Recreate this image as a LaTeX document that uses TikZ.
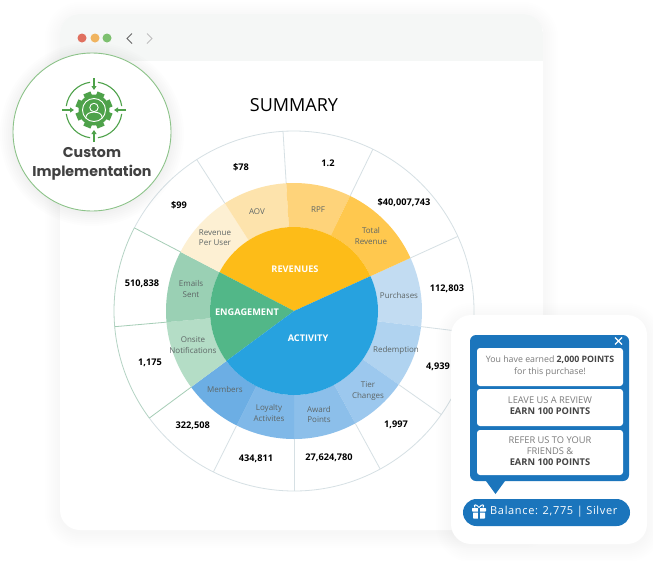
\documentclass[tikz,border=0pt]{standalone}
\usepackage{fontspec}
\setmainfont{Open Sans}
\newfontfamily\popfont{Poppins}
\newfontfamily\spacedfont[LetterSpace=6]{Open Sans}
\usetikzlibrary{arrows.meta}
\definecolor{revc}{HTML}{FDBC18}
\definecolor{engc}{HTML}{52B788}
\definecolor{actc}{HTML}{27A2DF}
\definecolor{popblue}{HTML}{1B75BC}
\definecolor{iconc}{HTML}{4EA24A}
\definecolor{tick}{HTML}{D6E0E4}
\definecolor{tickg}{HTML}{A5CDB6}
\definecolor{lbl}{HTML}{5E6666}
\definecolor{graytxt}{HTML}{7A7A7A}
\definecolor{darktxt}{HTML}{444444}
\definecolor{barbg}{HTML}{F5F7F6}
\definecolor{dotr}{HTML}{E0705F}
\definecolor{doto}{HTML}{F0B45F}
\definecolor{dotg}{HTML}{7DC06F}
\definecolor{sTotal}{HTML}{FFC84E}
\definecolor{sRPF}{HTML}{FED37A}
\definecolor{sAOV}{HTML}{FDE3AC}
\definecolor{sRev}{HTML}{FDF0D3}
\definecolor{sEmail}{HTML}{9AD0B4}
\definecolor{sOnsite}{HTML}{B4DDC6}
\definecolor{sMem}{HTML}{6CAEE4}
\definecolor{sLoy}{HTML}{7FB8E8}
\definecolor{sAward}{HTML}{8CBFEA}
\definecolor{sTier}{HTML}{9CC8EE}
\definecolor{sRed}{HTML}{B0D3F0}
\definecolor{sPur}{HTML}{C2DCF2}
\newcommand\softshadow[5]{% x1 y1 x2 y2 radius
  \foreach \sz in {1,3,...,15}{
    \fill[black,opacity=0.004,rounded corners=#5+\sz] (#1-\sz,#2-\sz+3) rectangle (#3+\sz,#4+\sz+3);
  }}
\newcommand\ringseg[5]{% colour a1 a2 r1 r2
  \fill[#1] (#2:#4) arc[start angle=#2,end angle=#3,radius=#4] -- (#3:#5) arc[start angle=#3,end angle=#2,radius=#5] -- cycle;}
\tikzset{
  valtxt/.style={font=\fontsize{9.2}{10}\selectfont\bfseries,text=black,inner sep=0pt},
  midtxt/.style={font=\fontsize{8}{10.3}\selectfont,text=lbl,align=center,inner sep=0pt},
  cenlbl/.style={font=\fontsize{9.2}{10}\selectfont\bfseries,text=white,inner sep=0pt},
  rowbox/.style={fill=white,rounded corners=3pt},
  rowtxta/.style={font=\fontsize{8.8}{12}\selectfont,text=graytxt,align=center,inner sep=0pt},
  rowtxtb/.style={font=\fontsize{9.3}{11.3}\selectfont,text=graytxt,align=center,inner sep=0pt},
  badgetxt/.style={font=\popfont\bfseries\fontsize{14.2}{18}\selectfont,text=darktxt!95!black,inner sep=0pt,anchor=base},
}
\begin{document}
\begin{tikzpicture}[x=1pt,y=-1pt]
\useasboundingbox (0,0) rectangle (653,560);
\fill[white] (0,0) rectangle (653,560);
% browser window
\softshadow{60}{14}{543}{530}{20}
\fill[white,rounded corners=20pt] (60,14) rectangle (543,530);
\begin{scope}
  \clip[rounded corners=20pt] (60,14) rectangle (543,530);
  \fill[barbg] (60,14) rectangle (543,61);
\end{scope}
\fill[dotr] (82,38) circle (4.5);
\fill[doto] (95,38) circle (4.5);
\fill[dotg] (107,38) circle (4.5);
\draw[black!60,line width=1pt] (132,33.5) -- (127,38.5) -- (132,43.5);
\draw[black!25,line width=1pt] (147,33.5) -- (152,38.5) -- (147,43.5);
\node[font=\fontsize{18}{20}\selectfont,text=black,inner sep=0pt] (title) at (294,105) {SUMMARY};
% chart
\begin{scope}[shift={(294,311)},y=1pt]
  \ringseg{sPur}{-7}{24.5}{84}{128}
  \ringseg{sRed}{-35.1}{-7}{84}{128}
  \ringseg{sTier}{-61.4}{-35.1}{84}{128}
  \ringseg{sAward}{-90}{-61.4}{84}{128}
  \ringseg{sLoy}{-116.6}{-90}{84}{128}
  \ringseg{sMem}{-143.5}{-116.6}{84}{128}
  \ringseg{sOnsite}{185}{216.5}{84}{128}
  \ringseg{sEmail}{152.5}{185}{84}{128}
  \ringseg{sRev}{122.7}{152.5}{84}{128}
  \ringseg{sAOV}{93.5}{122.7}{84}{128}
  \ringseg{sRPF}{64}{93.5}{84}{128}
  \ringseg{sTotal}{24.5}{64}{84}{128}
  \fill[revc] (0,0) -- (24.5:84) arc[start angle=24.5,end angle=152.5,radius=84] -- cycle;
  \fill[engc] (0,0) -- (152.5:84) arc[start angle=152.5,end angle=216.5,radius=84] -- cycle;
  \fill[actc] (0,0) -- (216.5:84) arc[start angle=216.5,end angle=384.5,radius=84] -- cycle;
  \draw[tick,line width=0.8pt] (-143.5:180) arc[start angle=-143.5,end angle=152.5,radius=180];
  \draw[tickg!70!tick,line width=0.8pt] (152.5:180) arc[start angle=152.5,end angle=216.5,radius=180];
  \foreach \ang in {24.5,64,93.5,122.7,-7,-35.1,-61.4,-90,-116.6}{
    \draw[tick,line width=0.8pt] (\ang:128) -- (\ang:180);
  }
  \foreach \ang in {152.5,185,216.5}{
    \draw[tickg,line width=0.8pt] (\ang:128) -- (\ang:180);
  }
\end{scope}
% values
\node[valtxt] (v1) at (241,167) {\$78};
\node[valtxt] (v2) at (179,205) {\$99};
\node[valtxt] (v3) at (328,163) {1.2};
\node[valtxt] (v4) at (404,203) {\$40,007,743};
\node[valtxt] (v5) at (447,289) {112,803};
\node[valtxt] (v6) at (438,367) {4,939};
\node[valtxt] (v7) at (396,425) {1,997};
\node[valtxt] (v8) at (329,458) {27,624,780};
\node[valtxt] (v9) at (256,459) {434,811};
\node[valtxt] (v10) at (192.7,426) {322,508};
\node[valtxt] (v11) at (150,363) {1,175};
\node[valtxt] (v12) at (142,284) {510,838};
% ring labels
\node[midtxt] (m1) at (215,238) {Revenue\\Per User};
\node[midtxt] (m2) at (257,212) {AOV};
\node[midtxt] (m3) at (318,209.5) {RPF};
\node[midtxt] (m4) at (371,236) {Total\\Revenue};
\node[midtxt] (m5) at (399,295) {Purchases};
\node[midtxt] (m6) at (396,350) {Redemption};
\node[midtxt] (m7) at (368,391) {Tier\\Changes};
\node[midtxt] (m8) at (319,414.5) {Award\\Points};
\node[midtxt] (m9) at (269,413) {Loyalty\\Activites};
\node[midtxt] (m10) at (225,389) {Members};
\node[midtxt] (m11) at (193,345) {Onsite\\Notifications};
\node[midtxt] (m12) at (191,289) {Emails\\Sent};
\node[cenlbl] (c1) at (295,269) {REVENUES};
\node[cenlbl] (c2) at (247,312.5) {ENGAGEMENT};
\node[cenlbl] (c3) at (308,338.5) {ACTIVITY};
% badge
\foreach \sz in {1,3,...,13}{\fill[black,opacity=0.006] (92,134) circle (79+\sz);}
\fill[white] (92,132) circle (79);
\draw[iconc!65!white,line width=0.9pt] (92,132) circle (79);
% icon
\begin{scope}[shift={(94,110)},y=1pt]
  \foreach \st in {8,98,188,278}{
    \draw[iconc,line width=1.1pt] (\st:28) arc[start angle=\st,end angle=\st+74,radius=28];
  }
  \foreach \ang in {0,90,180,270}{
    \draw[iconc,line width=1.1pt,-{Triangle[length=4pt,width=5pt]}] (\ang:32) -- (\ang:20);
  }
  \foreach \ang in {22.5,67.5,...,337.5}{
    \fill[iconc,rotate=\ang] (13,-3.8) rectangle (18.5,3.8);
  }
  \fill[iconc] (0,0) circle (15.5);
  \draw[white,line width=0.9pt] (0,0) circle (11.5);
  \draw[white,line width=0.9pt] (0,2.5) circle (4.2);
  \begin{scope}
    \clip (0,0) circle (11.5);
    \draw[white,line width=0.9pt] (-8.5,-9) .. controls (-8,-3) and (-4,-2.2) .. (0,-2.2) .. controls (4,-2.2) and (8,-3) .. (8.5,-9);
  \end{scope}
\end{scope}
\node[badgetxt] (b1) at (92,157.5) {Custom};
\node[badgetxt] (b2) at (92,176.5) {Implementation};
% popup card
\softshadow{451}{315}{647}{544}{20}
\fill[white,rounded corners=20pt] (451,315) rectangle (647,544);
\fill[popblue,rounded corners=6pt] (470,335) rectangle (629,481);
\fill[popblue] (486,481) -- (505,481) -- (495.5,494) -- cycle;
\draw[white,line width=1.2pt] (615,337.5) -- (622,344.5) (622,337.5) -- (615,344.5);
\fill[rowbox] (477,348) rectangle (623,386);
\fill[rowbox] (477,389) rectangle (623,426);
\fill[rowbox] (477,430) rectangle (623,475);
\node[rowtxta] (r1) at (550,366) {You have earned \textcolor{darktxt}{\textbf{2,000 POINTS}}\\for this purchase!};
\node[rowtxtb] (r2) at (550,406) {LEAVE US A REVIEW\\\textcolor{darktxt}{\textbf{EARN 100 POINTS}}};
\node[rowtxtb] (r3) at (550,451) {REFER US TO YOUR\\FRIENDS \&\\\textcolor{darktxt}{\textbf{EARN 100 POINTS}}};
\fill[popblue,rounded corners=13.5pt] (463,499) rectangle (630,526);
% gift icon
\fill[white,rounded corners=0.6pt] (472,508) rectangle (486,511.5);
\fill[white,rounded corners=0.6pt] (473,512.5) rectangle (485,518.5);
\fill[popblue] (478.2,508) rectangle (479.8,518.5);
\draw[white,line width=1pt] (479,507.5) .. controls (476,503.5) and (473,504.5) .. (475,507.5) (479,507.5) .. controls (482,503.5) and (485,504.5) .. (483,507.5);
\node[font=\spacedfont\fontsize{11}{12}\selectfont,text=white,inner sep=0pt,anchor=west] (bal) at (490,512) {Balance: 2,775 | Silver};
\end{tikzpicture}
\end{document}
